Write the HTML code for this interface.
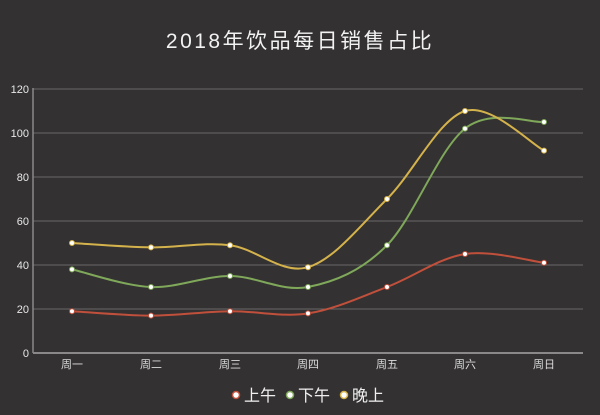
<!DOCTYPE html>
<html><head><meta charset="utf-8"><style>
html,body{margin:0;padding:0;background:#333131;}
svg{display:block;font-family:"Liberation Sans","Noto Sans CJK SC",sans-serif;}
</style></head><body>
<svg id="s" width="600" height="415" viewBox="0 0 600 415" xmlns="http://www.w3.org/2000/svg">
<rect width="600" height="415" fill="#333131"/>
<text x="300" y="48" text-anchor="middle" fill="#f2f2f2" font-size="21" letter-spacing="2.5">2018年饮品每日销售占比</text>
<g stroke="#6a6868" stroke-width="1">
<line x1="33" y1="89" x2="583" y2="89"/><line x1="33" y1="133" x2="583" y2="133"/>
<line x1="33" y1="177" x2="583" y2="177"/><line x1="33" y1="221" x2="583" y2="221"/>
<line x1="33" y1="265" x2="583" y2="265"/><line x1="33" y1="309" x2="583" y2="309"/>
</g>
<line x1="33" y1="353" x2="583" y2="353" stroke="#8a8888" stroke-width="2"/>
<line x1="33" y1="88" x2="33" y2="353" stroke="#8a8888" stroke-width="1.5"/>
<g fill="#e8e8e8" font-size="11" text-anchor="end">
<text x="29" y="93">120</text><text x="29" y="137">100</text><text x="29" y="181">80</text>
<text x="29" y="225">60</text><text x="29" y="269">40</text><text x="29" y="313">20</text><text x="29" y="357">0</text>
</g>
<g fill="#dcdcdc" font-size="11" text-anchor="middle">
<text x="72" y="368">周一</text><text x="151" y="368">周二</text><text x="230" y="368">周三</text>
<text x="308" y="368">周四</text><text x="387" y="368">周五</text><text x="465" y="368">周六</text><text x="544" y="368">周日</text>
</g>
<g font-size="16" fill="#f0f0f0">
<circle cx="236" cy="395" r="3.5" fill="#fff" stroke="#c0503c" stroke-width="1.5"/><text x="244" y="401">上午</text>
<circle cx="290" cy="395" r="3.5" fill="#fff" stroke="#7fa85a" stroke-width="1.5"/><text x="298" y="401">下午</text>
<circle cx="344" cy="395" r="3.5" fill="#fff" stroke="#d4b24c" stroke-width="1.5"/><text x="352" y="401">晚上</text>
</g>
<g id="series"></g>
</svg>
<script>
var xs=[72,151,230,308,387,465,544];
var data=[[19,17,19,18,30,45,41,"#c0503c"],[38,30,35,30,49,102,105,"#7fa85a"],[50,48,49,39,70,110,92,"#d4b24c"]];
var g=document.getElementById("series"),h="";
data.forEach(function(d){
 var p=xs.map(function(x,i){return [x,353-2.2*d[i]];});
 var s="M"+p[0][0]+","+p[0][1];
 for(var i=0;i<p.length-1;i++){
  var p0=p[Math.max(i-1,0)],p1=p[i],p2=p[i+1],p3=p[Math.min(i+2,p.length-1)];
  var c1=[p1[0]+(p2[0]-p0[0])/6,p1[1]+(p2[1]-p0[1])/6];
  var c2=[p2[0]-(p3[0]-p1[0])/6,p2[1]-(p3[1]-p1[1])/6];
  s+=" C"+c1+" "+c2+" "+p2;
 }
 h+='<path d="'+s+'" fill="none" stroke="'+d[7]+'" stroke-width="2"/>';
 p.forEach(function(q){h+='<circle cx="'+q[0]+'" cy="'+q[1]+'" r="2.5" fill="#fff" stroke="'+d[7]+'" stroke-width="1"/>';});
});
g.innerHTML=h;
</script>
</body></html>
